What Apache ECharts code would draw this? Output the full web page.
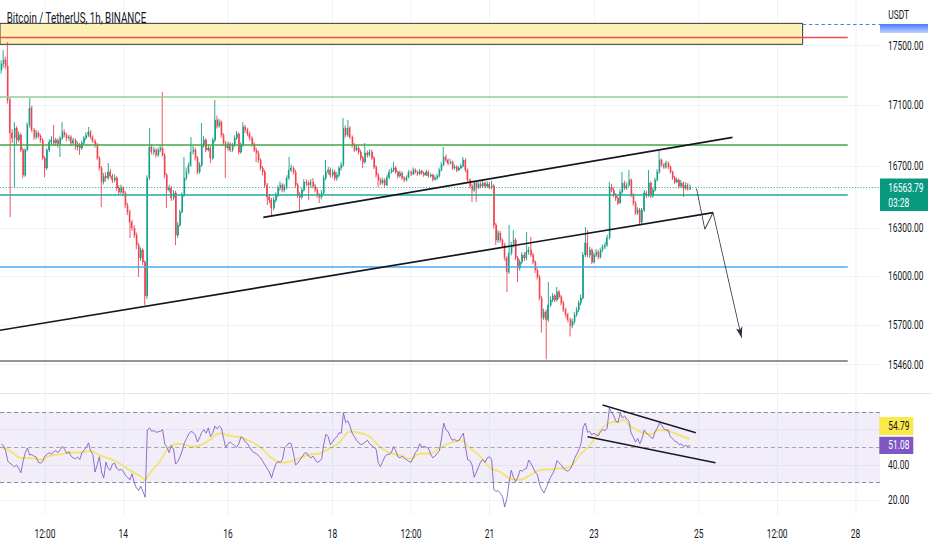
<!DOCTYPE html>
<html><head><meta charset="utf-8">
<script src="https://cdn.jsdelivr.net/npm/echarts@6/dist/echarts.min.js"></script>
<style>
html,body{margin:0;padding:0;background:#fff;overflow:hidden;width:932px;height:550px}
#wrap{width:932px;height:550px;overflow:hidden;position:relative;background:#fff}
#c{width:1330px;height:550px;transform:scaleX(0.70075);transform-origin:0 0;position:absolute;left:0;top:0}
</style></head><body><div id="wrap"><div id="c"></div></div>
<script>
// hours counted from Dec 14 00:00
const START_HOUR = -56;
const FIRST_OPEN = 17334;
const closes = [
17375,17402,17361,17134,16915,16882,16948,16869,16902,16804,
16641,16804,16968,17080,16935,16889,16915,16895,16869,16752,
16687,16804,16856,16869,16850,16869,16843,16882,16922,16902,
16882,16889,16850,16869,16824,16837,16817,16850,16882,16902,
16922,16889,16863,16837,16752,16687,16596,16635,16622,16661,
16635,16609,16622,16558,16532,16558,16526,16449,16404,16340,
16303,16258,16195,16114,16164,16089,15879,16622,16824,16791,
16804,16772,16804,16817,16772,16641,16545,16558,16494,16526,
16258,16322,16404,16513,16622,16661,16706,16791,16804,16752,
16661,16706,16837,16869,16804,16817,16752,16869,17001,16961,
16988,16902,16850,16817,16843,16804,16837,16882,16909,16791,
16837,16955,16935,16909,16882,16843,16804,16785,16739,16687,
16661,16577,16500,16481,16430,16481,16513,16558,16577,16545,
16564,16622,16674,16687,16661,16577,16513,16500,16545,16596,
16590,16577,16596,16570,16545,16513,16500,16526,16622,16661,
16674,16641,16661,16622,16641,16687,16706,16948,16902,16948,
16889,16837,16804,16817,16791,16752,16726,16785,16772,16791,
16752,16693,16641,16609,16590,16609,16577,16628,16661,16674,
16687,16661,16635,16654,16622,16609,16628,16661,16648,16674,
16661,16648,16667,16654,16641,16661,16635,16641,16615,16622,
16635,16674,16706,16759,16739,16719,16726,16687,16693,16674,
16687,16700,16739,16674,16609,16570,16545,16590,16564,16583,
16570,16590,16570,16583,16564,16570,16322,16227,16271,16227,
16195,16114,16027,16145,16195,16227,16114,16051,16089,16133,
16114,16151,16164,16133,16089,16039,15996,15866,15745,15781,
15733,15823,15854,15879,15854,15903,15873,15836,15793,15763,
15733,15696,15721,15763,15793,15836,15866,16133,16208,16133,
16164,16089,16133,16151,16120,16164,16183,16195,16240,16564,
16545,16513,16494,16462,16532,16590,16558,16577,16609,16513,
16462,16398,16417,16340,16417,16526,16513,16590,16507,16545,
16609,16661,16739,16706,16693,16719,16693,16661,16622,16596,
16609,16570,16590,16558,16577,16551,16563.79];
const highs = [
17400,17469,17425,17523,17150,16940,16988,16960,16925,16915,
16820,16815,16985,17147,17095,16950,16935,16930,16910,16880,
16765,16815,16875,16895,16968,16885,16880,16895,16988,16940,
16915,16905,16900,16885,16880,16860,16850,16865,16895,16920,
16955,16935,16900,16875,16850,16765,16700,16655,16660,16719,
16680,16650,16645,16635,16575,16580,16570,16540,16465,16420,
16355,16320,16275,16210,16180,16175,16100,16640,16948,16840,
16825,16815,16820,16835,17187,16785,16655,16580,16570,16545,
16540,16340,16420,16530,16759,16690,16725,16889,16830,16820,
16765,16725,16981,16895,16880,16840,16830,16885,17134,17030,
17010,17000,16915,16865,16860,16855,16850,16900,16930,16920,
16855,16988,16970,16950,16925,16895,16855,16820,16800,16750,
16700,16675,16590,16520,16495,16500,16530,16575,16600,16590,
16585,16640,16759,16710,16700,16675,16590,16530,16560,16615,
16615,16605,16615,16622,16585,16560,16525,16545,16640,16739,
16695,16690,16680,16675,16660,16700,16725,17014,16965,17001,
16960,16900,16850,16835,16830,16805,16765,16850,16800,16810,
16805,16765,16705,16655,16625,16625,16620,16645,16680,16690,
16726,16700,16670,16670,16665,16635,16640,16675,16670,16690,
16685,16670,16680,16675,16665,16675,16670,16655,16650,16640,
16650,16690,16725,16824,16775,16750,16745,16735,16710,16705,
16700,16715,16759,16750,16685,16620,16585,16605,16600,16600,
16600,16605,16600,16600,16595,16605,16585,16335,16290,16285,
16240,16210,16125,16322,16215,16290,16240,16125,16105,16150,
16150,16277,16185,16246,16145,16100,16050,16010,15880,15800,
15795,15965,15875,15895,15890,15934,15915,15885,15850,15805,
15775,15745,15740,15780,15810,15850,15885,16150,16309,16290,
16185,16175,16150,16170,16165,16180,16200,16215,16260,16596,
16585,16560,16525,16505,16550,16661,16605,16595,16674,16620,
16525,16475,16435,16430,16430,16545,16540,16674,16600,16560,
16625,16680,16804,16750,16720,16735,16730,16705,16670,16635,
16625,16620,16610,16600,16595,16590,16580];
const lows = [
17310,17350,17340,17110,16372,16850,16558,16840,16855,16790,
16622,16630,16795,16950,16920,16870,16875,16880,16850,16740,
16628,16675,16790,16840,16835,16830,16820,16759,16870,16885,
16860,16865,16835,16840,16805,16800,16772,16805,16840,16870,
16890,16875,16850,16820,16740,16670,16436,16580,16600,16610,
16620,16590,16595,16540,16515,16520,16505,16430,16385,16240,
16285,16240,16170,15996,16095,16070,15823,15860,16610,16775,
16770,16755,16760,16790,16760,16620,16430,16530,16475,16480,
16195,16240,16310,16395,16500,16605,16645,16695,16775,16735,
16645,16650,16695,16820,16790,16795,16719,16740,16855,16945,
16950,16885,16835,16622,16800,16790,16790,16825,16870,16775,
16780,16825,16915,16895,16865,16825,16790,16726,16720,16670,
16640,16560,16449,16460,16385,16415,16465,16500,16540,16530,
16530,16550,16610,16660,16645,16560,16495,16417,16485,16535,
16570,16481,16560,16555,16530,16495,16462,16485,16515,16610,
16645,16625,16625,16605,16605,16630,16670,16695,16885,16890,
16875,16820,16790,16795,16775,16735,16687,16715,16755,16760,
16740,16680,16625,16564,16575,16580,16565,16570,16615,16650,
16660,16650,16620,16625,16610,16595,16600,16620,16635,16640,
16650,16635,16640,16645,16630,16635,16625,16625,16600,16605,
16610,16625,16665,16700,16725,16705,16710,16675,16675,16660,
16665,16680,16690,16660,16595,16555,16468,16530,16468,16550,
16555,16560,16555,16560,16550,16550,16300,16195,16210,16210,
16180,16095,15903,16015,16130,16180,16100,15965,16035,16075,
16095,16100,16135,16120,16075,16020,15980,15850,15654,15730,
15492,15720,15810,15840,15840,15845,15860,15820,15780,15745,
15715,15630,15680,15705,15750,15780,15820,15855,16120,16120,
16115,16075,16080,16120,16105,16110,16150,16170,16185,16230,
16530,16500,16475,16449,16455,16520,16545,16545,16565,16500,
16445,16385,16385,16322,16330,16405,16495,16500,16495,16495,
16535,16600,16650,16695,16680,16685,16680,16650,16610,16585,
16590,16555,16560,16500,16545,16540,16545];
const rsiValues = [
52,51,48,42,41,40,39,40,38,35.6,
42,47,49.6,45.6,46,45,44.5,41.5,41,42,
45,46,47,46,47.5,48,47,48.5,50.5,49,
46.5,47.5,45,44,43.5,44.5,43,47,48.5,50,
52.5,48,46,36,40,44.6,36,32.6,41.6,38,
37,40.5,41,38,37,37.5,36.5,34,33,31.5,
35,30,27,25.5,28,25,21.7,59.8,61,59,
59.5,58.5,58.8,59,60,52,50,47,51,49,
40.5,42,44.6,48,52.5,55,57.5,59,58.5,57,
53,55.5,58.5,60,58,61,56,58,62,60.5,
62,61,55,49.6,52,53,52,51,50,52,
56,55,53,52,50,48,47,46.5,45,44,
42,40,38,36,32.6,37,40.5,42,41.5,43,
49.6,51,52.5,52,47,40,41,43,44.5,46.5,
47,45,44,45,43,41.5,42,43.5,52,57.5,
56,51.5,53,55,56,58.2,58,69.5,64,65,
62,58,56,54,52.5,51.5,52,53,54,52,
51,50,49,41,39,42,44.6,46,46,47,
50.5,48,44.6,44,45,43.5,43,42,41.5,44,
47,48.5,52,50,50.5,50,49.5,46,44,45,
46.5,48,55,63.7,60,59,56,54,54.5,53.5,
54,56,58,50,43,42.5,40,33,36,39,
42,43,41.5,44,44.6,43,26,25,25.5,24,
22,16.2,21,30,37,33,30.5,33,37,36.5,
37.5,38,42.8,41,38.5,36,34.5,29,26,24.1,
27,30,33,35,38,42.5,41,40,38,37,
36.5,37.5,40,43.6,46,48.5,52,61.5,63.7,58.5,
59,57,58,57,56.5,59,60,59.5,60.7,72.2,
70,68,64.8,64,69.5,66.6,67.8,66,64.8,58,
55.8,53,55,52,54.9,59.8,58,57,55.8,55,
58.8,61,63.7,62.7,60.5,59.8,59.8,56,55,53.5,
53,51.5,52,50.5,51,50.5,51.08];
const rsiMaHours = [-56,-52,-47,-43,-38,-34,-29,-24,-20,-15,-11,-6,-2,3,8,10,12,17,21,26,31,35,40,44,49,54,58,63,67,72,77,81,86,90,95,99,104,109,113,118,122,127,132,136,141,145,150,155,159,164,168,173,177,182,187,191,196,200,205,210,214,219,223,228,230,232,237,242,246,251,255,260];
const rsiMaValues = [50,48,44,44,43,45,46,47,47,48,45.5,43.5,41,37,33.5,31.5,35,42.5,50,52,50.5,51,54.5,58,56.5,55.5,53.5,50,45,41.3,42,44,46,46.5,49.6,52.5,59,58,56,50,47,45.5,43.5,46.5,46.5,49.6,52.5,54,49.6,44.6,38.5,36,32.5,31.6,34.5,37,37.5,38,39,46.5,51,59.8,63.7,64.8,65.7,62.7,58.8,57.5,59.8,59,57,54.79];
const priceTicks = [17500, 17100, 16700, 16300, 16000, 15700, 15460];
const rsiGridTicks = [20, 40, 60];
const rsiLabelTicks = [20, 40];
const timeTicks = [-36, 0, 48, 96, 132, 168, 216, 264, 300, 336];
const timeLabels = ['12:00', '14', '16', '18', '12:00', '21', '23', '25', '12:00', '28'];
const supplyZone = [17508, 17651];
const supplyZoneEndHour = 311.7;
const levelsEndHour = 332.4;
const redLevel = 17553;
const alertLevel = 17645;
const lightGreenLevel = 17153;
const greenLevel = 16837;
const tealLevel = 16517;
const blueLevel = 16058;
const grayLevel = 15483;
const lastPrice = 16563.79;
const countdown = '03:28';
const rsiLast = 51.08;
const rsiMaLast = 54.79;
const channelLower = [[-56.6, 15668], [270.6, 16400]];
const channelUpper = [[64.2, 16370], [279.5, 16887]];
const projectionPath = [[263.0, 16556], [266.8, 16296], [270.6, 16400], [283.7, 15622]];
const rsiUpperLine = [[219.9, 73.97], [262.7, 58.27]];
const rsiLowerLine = [[213.0, 56.0], [271.7, 41.27]];

const X_MIN = -56.6, X_MAX = 347.2;
const FONT = 'Roboto, "Noto Sans", sans-serif';
const INK = '#131722';

const n = Math.min(closes.length, highs.length, lows.length);
const candleData = [];
for (let i = 0; i < n; i++) {
  const o = i === 0 ? FIRST_OPEN : closes[i - 1];
  const c = closes[i];
  candleData.push([START_HOUR + i, o, c, Math.min(lows[i], o, c), Math.max(highs[i], o, c)]);
}
const rsiData = rsiValues.map((v, i) => [START_HOUR + i, v]);
const maData = rsiMaHours.map((h, i) => [h, rsiMaValues[i]]);

function hLine(price, x0, x1, color, width, type) {
  const ls = {color: color, width: width, type: type || 'solid', opacity: 1};
  return [{coord: [x0, price], lineStyle: ls}, {coord: [x1, price], lineStyle: ls}];
}
function seg(a, b, color, width, endSymbol) {
  const ls = {color: color, width: width, type: 'solid', opacity: 1};
  const end = {coord: b, lineStyle: ls};
  if (endSymbol) { end.symbol = 'arrow'; end.symbolSize = [7, 11]; }
  return [{coord: a, lineStyle: ls}, end];
}

const mainLines = [
  hLine(lightGreenLevel, X_MIN, levelsEndHour, '#8fd08f', 1.5),
  hLine(greenLevel, X_MIN, levelsEndHour, '#43a747', 1.5),
  hLine(tealLevel, X_MIN, levelsEndHour, '#22ab94', 1.7),
  hLine(blueLevel, X_MIN, levelsEndHour, '#4aa8f0', 1.5),
  hLine(grayLevel, X_MIN, levelsEndHour, '#6f727c', 1.6),
  hLine(redLevel, X_MIN, levelsEndHour, '#ec4b56', 1.3),
  hLine(alertLevel, supplyZoneEndHour, X_MAX, '#2962ff', 1, [5, 4]),
  hLine(lastPrice, X_MIN, X_MAX, '#089981', 1, [1.5, 2.5]),
  seg(channelLower[0], channelLower[1], INK, 1.7),
  seg(channelUpper[0], channelUpper[1], INK, 1.7),
  seg(projectionPath[0], projectionPath[1], '#2a2e39', 1.1),
  seg(projectionPath[1], projectionPath[2], '#2a2e39', 1.1),
  seg(projectionPath[2], projectionPath[3], '#2a2e39', 1.1, true)
];

const rsiLines = [
  hLine(70, X_MIN, X_MAX, '#787b86', 1, [6, 4]),
  hLine(50, X_MIN, X_MAX, '#9598a1', 1, [6, 4]),
  hLine(30, X_MIN, X_MAX, '#787b86', 1, [6, 4]),
  seg(rsiUpperLine[0], rsiUpperLine[1], INK, 1.6),
  seg(rsiLowerLine[0], rsiLowerLine[1], INK, 1.6)
];

const chart = echarts.init(document.getElementById('c'), null, {renderer: 'svg', width: 1330, height: 550});
const gridRight = 1330 - 880 / 0.70075;

const option = {
  animation: false,
  backgroundColor: '#ffffff',
  grid: [
    {left: 0, right: gridRight, top: 0, height: 393, outerBoundsMode: 'none'},
    {left: 0, right: gridRight, top: 394, height: 121, outerBoundsMode: 'none'}
  ],
  xAxis: [
    {gridIndex: 0, type: 'value', min: X_MIN, max: X_MAX,
     axisLine: {show: false}, axisTick: {show: false, customValues: timeTicks},
     axisLabel: {show: false, customValues: timeTicks},
     splitLine: {show: true, lineStyle: {color: '#eef0f5', width: 1}}},
    {gridIndex: 1, type: 'value', min: X_MIN, max: X_MAX,
     axisLine: {show: false}, axisTick: {show: false, customValues: timeTicks},
     axisLabel: {show: true, customValues: timeTicks, color: INK, fontSize: 12, fontFamily: FONT, margin: 13,
       formatter: v => { const k = timeTicks.indexOf(v); return k >= 0 ? timeLabels[k] : ''; }},
     splitLine: {show: true, lineStyle: {color: '#eef0f5', width: 1}}}
  ],
  yAxis: [
    {gridIndex: 0, type: 'log', logBase: 10, min: 15291, max: 17812, position: 'right',
     axisLine: {show: false}, axisTick: {show: false, customValues: priceTicks},
     axisLabel: {customValues: priceTicks, color: INK, fontSize: 12, fontFamily: FONT, margin: 11.5,
       formatter: v => Number(v).toFixed(2)},
     splitLine: {show: true, lineStyle: {color: '#eef0f5', width: 1}}},
    {gridIndex: 1, type: 'value', min: 11.64, max: 80.2, position: 'right',
     axisLine: {show: false}, axisTick: {show: false, customValues: rsiGridTicks},
     axisLabel: {customValues: rsiLabelTicks, color: INK, fontSize: 12, fontFamily: FONT, margin: 11.5,
       formatter: v => Number(v).toFixed(2)},
     splitLine: {show: true, lineStyle: {color: '#eef0f5', width: 1}}}
  ],
  series: [
    {type: 'candlestick', xAxisIndex: 0, yAxisIndex: 0, data: candleData,
     encode: {x: 0, y: [1, 2, 3, 4]}, barWidth: 1.5, silent: true,
     itemStyle: {color: '#089981', color0: '#f23645', borderColor: '#089981', borderColor0: '#f23645', borderWidth: 1},
     markArea: {silent: true, itemStyle: {color: '#fdf0b4', borderColor: '#131722', borderWidth: 1},
       data: [[{coord: [X_MIN, supplyZone[1]]}, {coord: [supplyZoneEndHour, supplyZone[0]]}]]},
     markLine: {silent: true, symbol: ['none', 'none'], label: {show: false},
       lineStyle: {type: 'solid', opacity: 1}, emphasis: {disabled: true}, blur: {lineStyle: {opacity: 1}},
       data: mainLines}
    },
    {type: 'line', xAxisIndex: 1, yAxisIndex: 1, data: rsiData, showSymbol: false, silent: true,
     lineStyle: {color: '#7e57c2', width: 1}, z: 3,
     markArea: {silent: true, itemStyle: {color: 'rgba(126,87,194,0.1)'},
       data: [[{coord: [X_MIN, 70]}, {coord: [X_MAX, 30]}]]},
     markLine: {silent: true, symbol: ['none', 'none'], label: {show: false},
       lineStyle: {type: 'solid', opacity: 1}, emphasis: {disabled: true},
       data: rsiLines}
    },
    {type: 'line', xAxisIndex: 1, yAxisIndex: 1, data: maData, showSymbol: false, silent: true, smooth: 0.35,
     lineStyle: {color: '#f2e470', width: 2}, z: 2}
  ]
};
chart.setOption(option);

const axisX = 880 / 0.70075;
const yLast = chart.convertToPixel({gridIndex: 0}, [0, lastPrice])[1];
const yRsi = chart.convertToPixel({gridIndex: 1}, [0, rsiLast])[1];
const txtX = axisX + 11.8;
const boxW = 68.5, rsiBoxW = 48.5;
const purpleTop = yRsi - 8.7;
const yellowTop = purpleTop - 19.7;

chart.setOption({graphic: [
  {type: 'line', z: 50, shape: {x1: 0, y1: 393.5, x2: 1330, y2: 393.5}, style: {stroke: '#e0e3eb', lineWidth: 1}},
  {type: 'text', z: 60, x: 9.5, y: 18, style: {text: 'Bitcoin / TetherUS, 1h, BINANCE', fill: INK, font: '14px ' + FONT, verticalAlign: 'middle', textVerticalAlign: 'middle'}},
  {type: 'rect', z: 60, shape: {x: axisX, y: 24, width: boxW, height: 9},
   style: {fill: new echarts.graphic.LinearGradient(0, 0, 0, 1, [{offset: 0, color: 'rgba(41,98,255,0.85)'}, {offset: 1, color: 'rgba(41,98,255,0.3)'}])}},
  {type: 'text', z: 61, x: txtX, y: 15, style: {text: 'USDT', fill: INK, font: '12px ' + FONT, verticalAlign: 'middle', textVerticalAlign: 'middle'}},
  {type: 'rect', z: 60, shape: {x: axisX, y: yLast - 8.7, width: boxW, height: 32.7}, style: {fill: '#089981'}},
  {type: 'text', z: 61, x: txtX, y: yLast + 0.5, style: {text: lastPrice.toFixed(2), fill: '#ffffff', font: '12px ' + FONT, verticalAlign: 'middle', textVerticalAlign: 'middle'}},
  {type: 'text', z: 61, x: txtX, y: yLast + 15.5, style: {text: countdown, fill: '#ffffff', font: '12px ' + FONT, verticalAlign: 'middle', textVerticalAlign: 'middle'}},
  {type: 'rect', z: 60, shape: {x: axisX - 1, y: yellowTop, width: rsiBoxW, height: 18}, style: {fill: '#fbe94a'}},
  {type: 'text', z: 61, x: txtX, y: yellowTop + 9, style: {text: rsiMaLast.toFixed(2), fill: INK, font: '12px ' + FONT, verticalAlign: 'middle', textVerticalAlign: 'middle'}},
  {type: 'rect', z: 60, shape: {x: axisX - 1, y: purpleTop, width: rsiBoxW, height: 17.3}, style: {fill: '#7e57c2'}},
  {type: 'text', z: 61, x: txtX, y: yRsi, style: {text: rsiLast.toFixed(2), fill: '#ffffff', font: '12px ' + FONT, verticalAlign: 'middle', textVerticalAlign: 'middle'}}
]});
</script></body></html>
